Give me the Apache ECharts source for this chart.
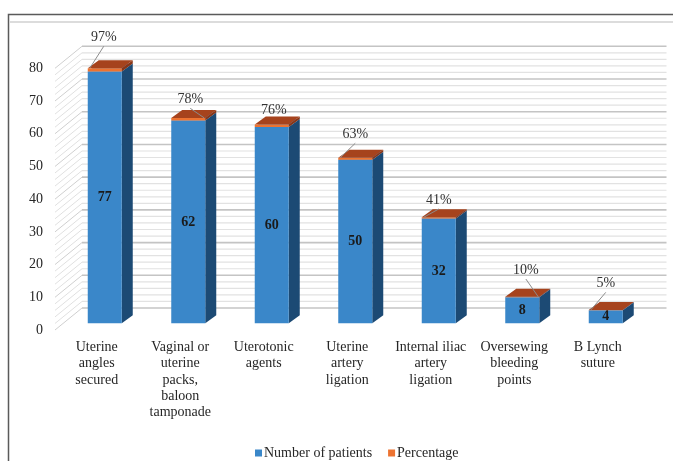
<!DOCTYPE html>
<html>
<head>
<meta charset="utf-8">
<script src="https://cdn.jsdelivr.net/npm/echarts@6/dist/echarts.min.js"></script>
<style>html,body{margin:0;padding:0;background:#fff}#c{width:673px;height:461px}</style>
</head>
<body>
<div id="c"></div>
<script>
// ---- data ----
var categories = ['Uterine\nangles\nsecured', 'Vaginal or\nuterine\npacks,\nbaloon\ntamponade', 'Uterotonic\nagents', 'Uterine\nartery\nligation', 'Internal iliac\nartery\nligation', 'Oversewing\nbleeding\npoints', 'B Lynch\nsuture'];
var patients = [77, 62, 60, 50, 32, 8, 4];
var percentage = [0.97, 0.78, 0.76, 0.63, 0.41, 0.10, 0.05];
var yMin = 0, yMax = 80, yInterval = 10, yMinor = 2;

// ---- layout / style config ----
var FONT = "'Liberation Serif','Times New Roman',serif";
var pctLabelOffset = [[-1, -31], [2, -18.6], [2, -14.6], [0, -23.4], [0, -17.3], [3.6, -26.8], [0, -26.7]];
var pctLeaderSide = [-1, 1, 0, -1, -1, 1, -1];
var BW = 34, OX = 8, OY = -6.7, DX = 11, DY = -8, WX = 27, WY = -22;

var wallTicks = [];
for (var t = yMin; t <= yMax; t += yMinor) wallTicks.push([0, t]);

function box(left, right, top, bottom, cFront, cSide, cTop) {
  return [
    {type: 'polygon', shape: {points: [[right, bottom], [right + DX, bottom + DY], [right + DX, top + DY], [right, top]]}, style: {fill: cSide}},
    {type: 'polygon', shape: {points: [[left, top], [left + DX, top + DY], [right + DX, top + DY], [right, top]]}, style: {fill: cTop}},
    {type: 'rect', shape: {x: left, y: top, width: right - left, height: bottom - top}, style: {fill: cFront}}
  ];
}

var chart = echarts.init(document.getElementById('c'));
chart.setOption({
  animation: false,
  grid: {left: 55, width: 584.5, top: 68.3, bottom: 131},
  xAxis: {
    type: 'category', data: categories,
    axisLine: {show: false}, axisTick: {show: false},
    axisLabel: {fontFamily: FONT, fontSize: 14, color: '#262626', lineHeight: 16.4, margin: 9, interval: 0}
  },
  yAxis: {
    type: 'value', min: yMin, max: yMax, interval: yInterval,
    axisLine: {show: false}, axisTick: {show: false}, splitLine: {show: false},
    axisLabel: {fontFamily: FONT, fontSize: 14, color: '#262626', margin: 12}
  },
  legend: {
    left: 250, top: 441, itemWidth: 7, itemHeight: 7, itemGap: 16, icon: 'rect',
    data: ['Number of patients', 'Percentage'],
    textStyle: {fontFamily: FONT, fontSize: 14, color: '#262626', padding: [0, 0, 0, -3]}
  },
  graphic: [
    {type: 'rect', shape: {x: 8.5, y: 14.5, width: 700, height: 500}, style: {fill: null, stroke: '#5a5a5a', lineWidth: 1.5}, silent: true},
    {type: 'line', shape: {x1: 10, y1: 22, x2: 673, y2: 22}, style: {stroke: '#dcdcdc', lineWidth: 2}, silent: true}
  ],
  series: [
    {
      type: 'custom', name: 'walls', silent: true, clip: false, z: 1,
      data: wallTicks,
      renderItem: function (params, api) {
        var v = api.value(1);
        var y = api.coord([0, v])[1];
        var cs = params.coordSys;
        var major = v % yInterval === 0;
        return {type: 'group', children: [
          {type: 'line', shape: {x1: cs.x, y1: y, x2: cs.x + WX, y2: y + WY}, style: {stroke: major ? '#cfcfcf' : '#e0e0e0', lineWidth: 1}},
          {type: 'line', shape: {x1: cs.x + WX, y1: y + WY, x2: cs.x + cs.width + WX, y2: y + WY}, style: {stroke: major ? '#c4c4c4' : '#e2e2e2', lineWidth: major ? 1.6 : 1.2}}
        ]};
      }
    },
    {
      type: 'custom', name: 'Number of patients', clip: false, z: 2,
      itemStyle: {color: '#3a87c9'},
      data: patients.map(function (v, i) { return [i, v]; }),
      renderItem: function (params, api) {
        var i = api.value(0), v = api.value(1);
        var p0 = api.coord([i, 0]), p1 = api.coord([i, v]);
        var left = p0[0] + OX - BW / 2, right = left + BW;
        var bottom = p0[1] + OY, top = p1[1] + OY;
        var ch = box(left, right, top, bottom, '#3a87c9', '#1c4a74', '#4f95d0');
        ch.push({type: 'text', style: {text: String(v), x: (left + right) / 2, y: (top + bottom) / 2, align: 'center', verticalAlign: 'middle', font: 'bold 14px ' + FONT, fill: '#1a1a1a'}});
        return {type: 'group', children: ch};
      }
    },
    {
      type: 'custom', name: 'Percentage', clip: false, z: 3,
      itemStyle: {color: '#ed7331'},
      data: percentage.map(function (v, i) { return [i, patients[i], v]; }),
      renderItem: function (params, api) {
        var i = api.value(0), base = api.value(1), v = api.value(2);
        var p0 = api.coord([i, base]), p1 = api.coord([i, base + v]);
        var left = p0[0] + OX - BW / 2, right = left + BW;
        var bottom = p0[1] + OY, top = p1[1] + OY;
        var ch = box(left, right, top, bottom, '#ed7331', '#8a3515', '#a6431d');
        var cx = (left + right) / 2;
        var off = pctLabelOffset[i];
        var lx = cx + off[0], ly = top + off[1];
        var side = pctLeaderSide[i];
        if (side !== 0) {
          var ex = side < 0 ? left + 2 : right - 1;
          ch.push({type: 'line', shape: {x1: lx, y1: ly + 9, x2: ex, y2: top}, style: {stroke: '#8c8c8c', lineWidth: 1}});
        }
        ch.push({type: 'text', style: {text: Math.round(v * 100) + '%', x: lx, y: ly, align: 'center', verticalAlign: 'middle', font: '14px ' + FONT, fill: '#333333'}});
        return {type: 'group', children: ch};
      }
    }
  ]
});
</script>
</body>
</html>
